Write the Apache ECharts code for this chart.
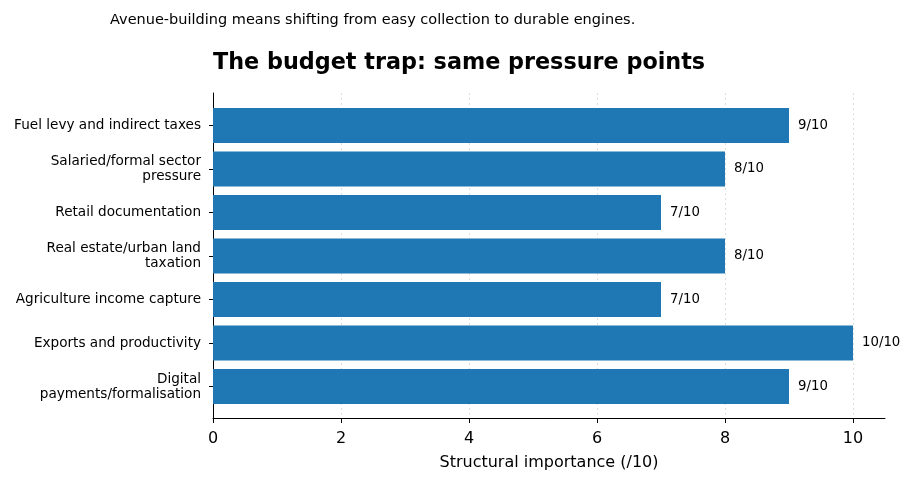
<!DOCTYPE html>
<html>
<head>
<meta charset="utf-8">
<script src="https://cdn.jsdelivr.net/npm/echarts@6/dist/echarts.min.js"></script>
<style>
  html, body { margin: 0; padding: 0; background: #fff; }
  #chart { width: 915px; height: 485px; }
</style>
</head>
<body>
<div id="chart"></div>
<script>
const categories = [
    'Fuel levy and indirect taxes',
    'Salaried/formal sector\npressure',
    'Retail documentation',
    'Real estate/urban land\ntaxation',
    'Agriculture income capture',
    'Exports and productivity',
    'Digital\npayments/formalisation'
];
const scores = [9, 8, 7, 8, 7, 10, 9];
const xTicks = [0, 2, 4, 6, 8, 10];

const font = 'DejaVu Sans';
const chart = echarts.init(document.getElementById('chart'));

const options = {
    backgroundColor: '#fff',
    animation: false,
    textStyle: { fontFamily: font },
    title: [
        {
            text: 'Avenue-building means shifting from easy collection to durable engines.',
            left: 105,
            top: 8,
            textStyle: { fontFamily: font, fontSize: 14.5, fontWeight: 'normal', color: '#000' }
        },
        {
            text: 'The budget trap: same pressure points',
            left: 208,
            top: 47,
            textStyle: { fontFamily: font, fontSize: 22.3, fontWeight: 'bold', color: '#000' }
        }
    ],
    grid: [
        { left: 213, right: 30, top: 93, bottom: 67 },
        { left: 213, right: 30, top: 103.75, bottom: 76.75 }
    ],
    xAxis: [
        {
            gridIndex: 0,
            type: 'value',
            min: 0,
            max: 10.5,
            interval: 2,
            axisLine: { show: true, lineStyle: { color: '#000', width: 1 } },
            axisTick: { show: true, length: 5, lineStyle: { color: '#000' } },
            axisLabel: {
                fontSize: 16, color: '#000', margin: 13, showMaxLabel: false,
                formatter: (v) => (xTicks.includes(v) ? String(v) : '')
            },
            splitLine: {
                show: true, showMaxLine: false,
                lineStyle: { color: '#dddddd', type: [2, 3], width: 1 }
            },
            name: 'Structural importance (/10)',
            nameLocation: 'middle',
            nameGap: 37,
            nameTextStyle: { fontSize: 16, color: '#000' }
        },
        {
            gridIndex: 1,
            type: 'value',
            min: 0,
            max: 10.5,
            show: false
        }
    ],
    yAxis: [
        {
            gridIndex: 0,
            type: 'value',
            min: 0,
            max: 1,
            axisLine: { show: true, lineStyle: { color: '#000', width: 1 } },
            axisTick: { show: false },
            axisLabel: { show: false },
            splitLine: { show: false }
        },
        {
            gridIndex: 1,
            type: 'category',
            inverse: true,
            data: categories,
            axisLine: { show: false },
            axisTick: { show: true, alignWithLabel: true, length: 4, lineStyle: { color: '#000' } },
            axisLabel: {
                fontSize: 13.6, color: '#000', margin: 12, lineHeight: 15,
                align: 'right', padding: [4, 0, 0, 0]
            },
            splitLine: { show: false }
        }
    ],
    series: [
        {
            type: 'bar',
            xAxisIndex: 1,
            yAxisIndex: 1,
            data: scores,
            barWidth: '80%',
            itemStyle: { color: '#1f77b4' },
            label: {
                show: true,
                position: 'right',
                distance: 9,
                formatter: (p) => p.value + '/10',
                fontSize: 13.3,
                color: '#000'
            }
        }
    ]
};

chart.setOption(options);
</script>
</body>
</html>
